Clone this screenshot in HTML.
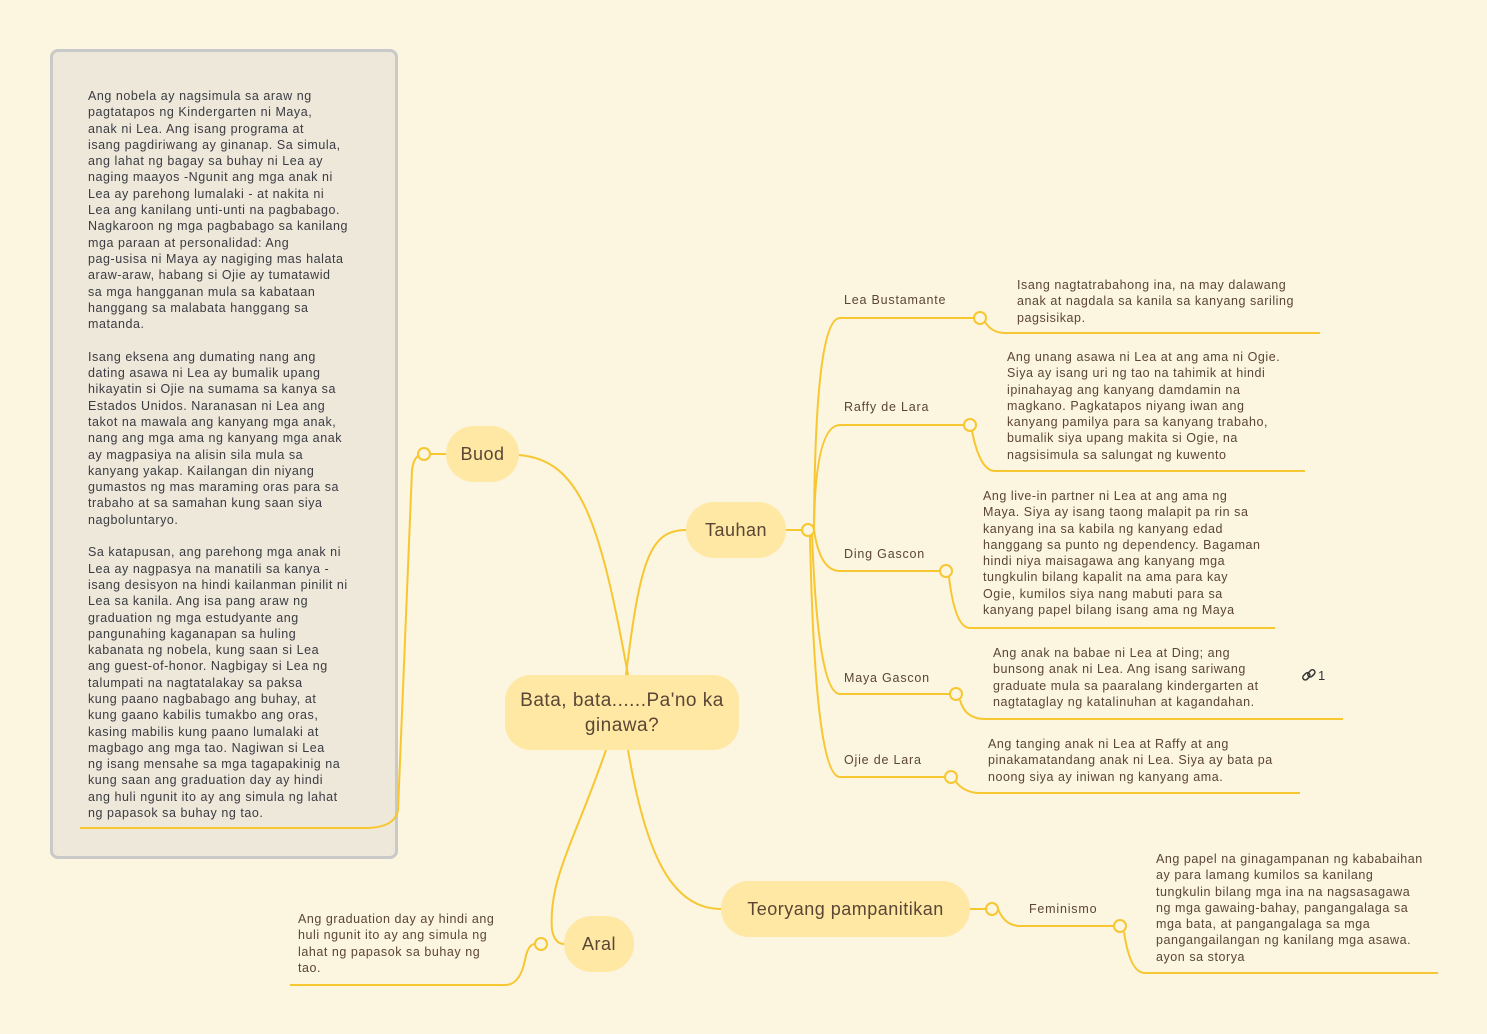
<!DOCTYPE html>
<html><head><meta charset="utf-8"><style>
body{margin:0;width:1487px;height:1034px;background:#fcf5e0;overflow:hidden;position:relative;font-family:"Liberation Sans",sans-serif;}
.t{position:absolute;white-space:nowrap;color:#5b4636;font-size:12.5px;line-height:16.3px;letter-spacing:0.55px}
.lb{position:absolute;white-space:nowrap;color:#5b4636;font-size:12.5px;letter-spacing:0.8px}
.nd{position:absolute;background:#fee8a4;color:#5b4636;display:flex;align-items:center;justify-content:center;text-align:center;border-radius:28px;letter-spacing:0.5px}
#box{position:absolute;left:50px;top:49px;width:342px;height:804px;background:#ede8da;border:3px solid #c9c9c9;border-radius:8px}
</style></head><body>
<div id="box"></div>
<svg width="1487" height="1034" style="position:absolute;left:0;top:0" fill="none" stroke="#f7c731" stroke-width="2">
<path d="M80 828 H365 Q395 828 398 810 L412 470 Q414 454 424 454"/>
<path d="M430 454 H446"/>
<path d="M628 675 C600 520 580 460 519 455"/>
<path d="M626 675 C640 560 650 530 686 530"/>
<path d="M628 750 C645 850 670 909 721 909"/>
<path d="M606 750 C575 840 548 880 552 930 Q555 944 564 944"/>
<path d="M535 944 Q528 944 525 960 Q520 985 505 985 H290"/>
<path d="M786 530 H802"/>
<path d="M814 530 Q815 318 840 318 H974"/>
<path d="M814 530 Q815 425 840 425 H964"/>
<path d="M814 530 Q820 571 840 571 H940"/>
<path d="M812 534 Q818 694 840 694 H950"/>
<path d="M810 536 Q815 777 840 777 H945"/>
<path d="M985 322 Q992 333 1005 333 H1320"/>
<path d="M972 431 Q980 471 995 471 H1305"/>
<path d="M949 577 Q955 628 970 628 H1275"/>
<path d="M960 700 Q965 719 985 719 H1343"/>
<path d="M956 782 Q965 793 980 793 H1300"/>
<path d="M970 909 H986"/>
<path d="M998 909 Q1005 926 1020 926 H1114"/>
<path d="M1124 932 Q1130 973 1145 973 H1438"/>
<g fill="#fcf5e0">
<circle cx="424" cy="454" r="6"/><circle cx="541" cy="944" r="6"/><circle cx="808" cy="530" r="6"/>
<circle cx="980" cy="318" r="6"/><circle cx="970" cy="425" r="6"/><circle cx="946" cy="571" r="6"/>
<circle cx="956" cy="694" r="6"/><circle cx="951" cy="777" r="6"/><circle cx="992" cy="909" r="6"/><circle cx="1120" cy="926" r="6"/>
</g>
<g stroke="#333" stroke-width="1.5"><rect x="1302" y="674" width="8" height="5" rx="2.5" transform="rotate(-45 1306 676)"/><rect x="1307" y="671" width="8" height="5" rx="2.5" transform="rotate(-45 1311 673)"/></g>
</svg>
<div class="lb" style="left:1318px;top:668px;color:#333;font-size:13px;letter-spacing:0">1</div>

<div class="t" style="left:88px;top:88px;color:#3b3b42">Ang nobela ay nagsimula sa araw ng<br>pagtatapos ng Kindergarten ni Maya,<br>anak ni Lea. Ang isang programa at<br>isang pagdiriwang ay ginanap. Sa simula,<br>ang lahat ng bagay sa buhay ni Lea ay<br>naging maayos -Ngunit ang mga anak ni<br>Lea ay parehong lumalaki - at nakita ni<br>Lea ang kanilang unti-unti na pagbabago.<br>Nagkaroon ng mga pagbabago sa kanilang<br>mga paraan at personalidad: Ang<br>pag-usisa ni Maya ay nagiging mas halata<br>araw-araw, habang si Ojie ay tumatawid<br>sa mga hangganan mula sa kabataan<br>hanggang sa malabata hanggang sa<br>matanda.<br><br>Isang eksena ang dumating nang ang<br>dating asawa ni Lea ay bumalik upang<br>hikayatin si Ojie na sumama sa kanya sa<br>Estados Unidos. Naranasan ni Lea ang<br>takot na mawala ang kanyang mga anak,<br>nang ang mga ama ng kanyang mga anak<br>ay magpasiya na alisin sila mula sa<br>kanyang yakap. Kailangan din niyang<br>gumastos ng mas maraming oras para sa<br>trabaho at sa samahan kung saan siya<br>nagboluntaryo.<br><br>Sa katapusan, ang parehong mga anak ni<br>Lea ay nagpasya na manatili sa kanya -<br>isang desisyon na hindi kailanman pinilit ni<br>Lea sa kanila. Ang isa pang araw ng<br>graduation ng mga estudyante ang<br>pangunahing kaganapan sa huling<br>kabanata ng nobela, kung saan si Lea<br>ang guest-of-honor. Nagbigay si Lea ng<br>talumpati na nagtatalakay sa paksa<br>kung paano nagbabago ang buhay, at<br>kung gaano kabilis tumakbo ang oras,<br>kasing mabilis kung paano lumalaki at<br>magbago ang mga tao. Nagiwan si Lea<br>ng isang mensahe sa mga tagapakinig na<br>kung saan ang graduation day ay hindi<br>ang huli ngunit ito ay ang simula ng lahat<br>ng papasok sa buhay ng tao.</div>

<div class="nd" style="left:505px;top:675px;width:234px;height:75px;font-size:19px;line-height:25px;border-radius:26px">Bata, bata......Pa'no ka<br>ginawa?</div>
<div class="nd" style="left:446px;top:426px;width:73px;height:56px;font-size:18px">Buod</div>
<div class="nd" style="left:686px;top:502px;width:100px;height:56px;font-size:18px">Tauhan</div>
<div class="nd" style="left:721px;top:881px;width:249px;height:56px;font-size:18px">Teoryang pampanitikan</div>
<div class="nd" style="left:564px;top:916px;width:70px;height:56px;font-size:18px;border-radius:30px">Aral</div>

<div class="lb" style="left:844px;top:293px">Lea Bustamante</div>
<div class="lb" style="left:844px;top:400px">Raffy de Lara</div>
<div class="lb" style="left:844px;top:547px">Ding Gascon</div>
<div class="lb" style="left:844px;top:671px">Maya Gascon</div>
<div class="lb" style="left:844px;top:753px">Ojie de Lara</div>
<div class="lb" style="left:1029px;top:902px">Feminismo</div>

<div class="t" style="left:1017px;top:277px">Isang nagtatrabahong ina, na may dalawang<br>anak at nagdala sa kanila sa kanyang sariling<br>pagsisikap.</div>
<div class="t" style="left:1007px;top:349px">Ang unang asawa ni Lea at ang ama ni Ogie.<br>Siya ay isang uri ng tao na tahimik at hindi<br>ipinahayag ang kanyang damdamin na<br>magkano. Pagkatapos niyang iwan ang<br>kanyang pamilya para sa kanyang trabaho,<br>bumalik siya upang makita si Ogie, na<br>nagsisimula sa salungat ng kuwento</div>
<div class="t" style="left:983px;top:488px">Ang live-in partner ni Lea at ang ama ng<br>Maya. Siya ay isang taong malapit pa rin sa<br>kanyang ina sa kabila ng kanyang edad<br>hanggang sa punto ng dependency. Bagaman<br>hindi niya maisagawa ang kanyang mga<br>tungkulin bilang kapalit na ama para kay<br>Ogie, kumilos siya nang mabuti para sa<br>kanyang papel bilang isang ama ng Maya</div>
<div class="t" style="left:993px;top:645px">Ang anak na babae ni Lea at Ding; ang<br>bunsong anak ni Lea. Ang isang sariwang<br>graduate mula sa paaralang kindergarten at<br>nagtataglay ng katalinuhan at kagandahan.</div>
<div class="t" style="left:988px;top:736px">Ang tanging anak ni Lea at Raffy at ang<br>pinakamatandang anak ni Lea. Siya ay bata pa<br>noong siya ay iniwan ng kanyang ama.</div>
<div class="t" style="left:1156px;top:851px">Ang papel na ginagampanan ng kababaihan<br>ay para lamang kumilos sa kanilang<br>tungkulin bilang mga ina na nagsasagawa<br>ng mga gawaing-bahay, pangangalaga sa<br>mga bata, at pangangalaga sa mga<br>pangangailangan ng kanilang mga asawa.<br>ayon sa storya</div>
<div class="t" style="left:298px;top:911px">Ang graduation day ay hindi ang<br>huli ngunit ito ay ang simula ng<br>lahat ng papasok sa buhay ng<br>tao.</div>
</body></html>
